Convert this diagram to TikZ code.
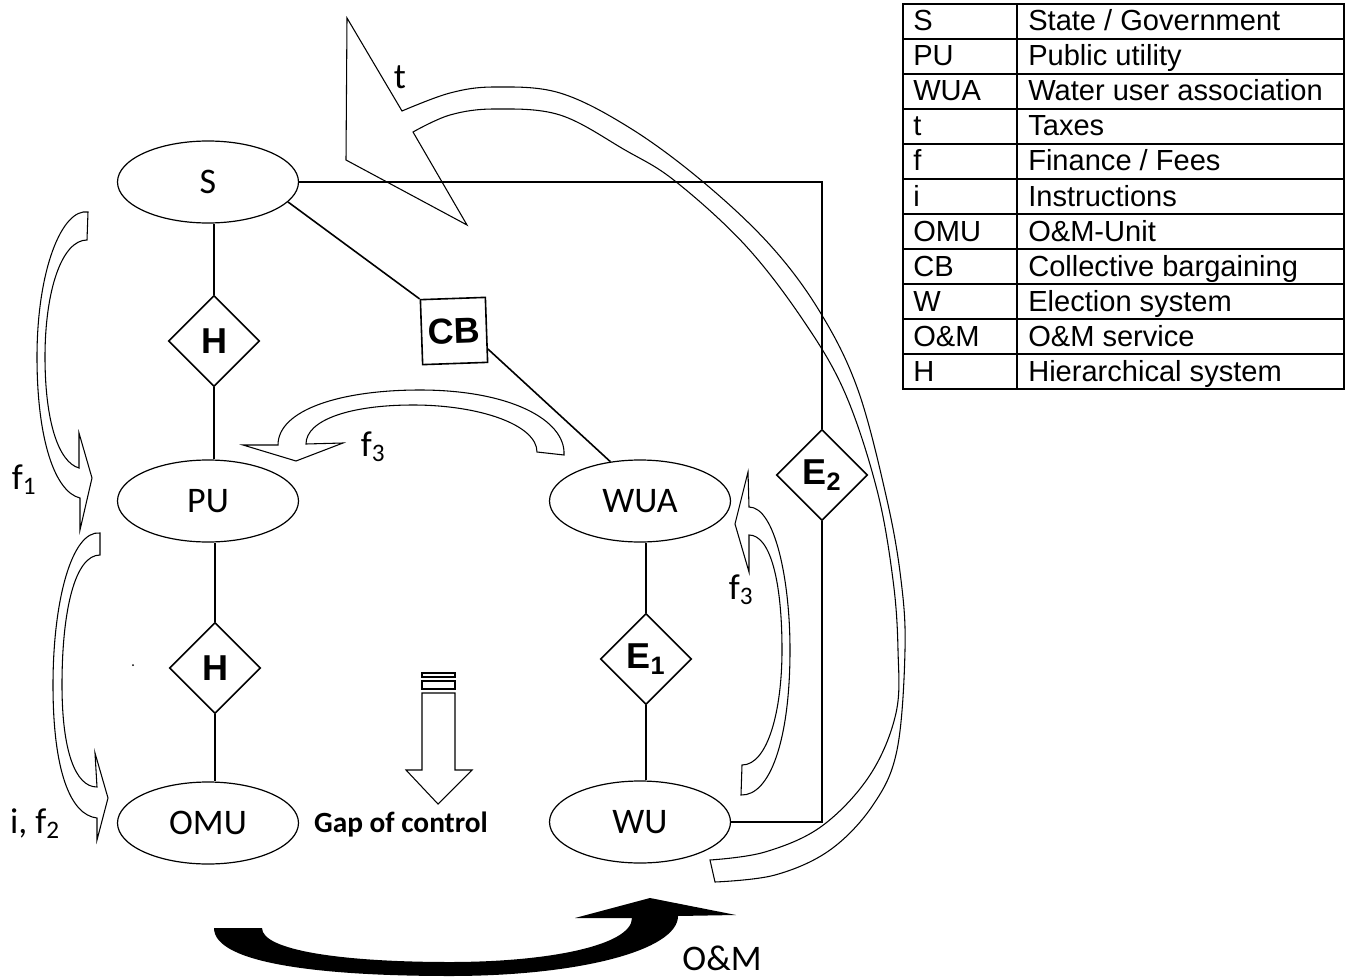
\documentclass[tikz,border=0pt]{standalone}
\usepackage{fontspec}
\setmainfont{Carlito}
\newfontfamily\arialf{Liberation Sans}
\usetikzlibrary{shapes.geometric}
\begin{document}
\begin{tikzpicture}[x=0.75pt,y=-0.75pt,
  ell/.style={ellipse,draw,line width=0.9pt,minimum width=135.75pt,minimum height=61.5pt,inner sep=0pt,font=\fontsize{27}{30}\selectfont},
  dia/.style={diamond,draw,line width=1.2pt,minimum width=68.25pt,minimum height=68.25pt,inner sep=0pt,font=\arialf\bfseries\fontsize{27}{30}\selectfont},
  conn/.style={line width=1.2pt},
  blk/.style={line width=0.8pt,line join=miter},
  lbl/.style={inner sep=0pt,font=\fontsize{27}{30}\selectfont},
  tbl/.style={line width=1.1pt},
  tcell/.style={anchor=base west,inner sep=0pt,font=\arialf\fontsize{21.8}{24}\selectfont}]
\useasboundingbox (0,0) rectangle (1352,977);

% nodes
\node[ell] (S) at (208,182) {S};
\node[ell] (PU) at (208,501) {PU};
\node[ell] (OMU) at (208,823) {OMU};
\node[ell] (WUA) at (640,501) {WUA};
\node[ell] (WU) at (640,822) {WU};
\node[dia] (H1) at (214,341) {H};
\node[dia] (H2) at (215,668) {H};
\node[dia] (E1) at (646,659) {E\textsubscript{1}};
\node[dia] (E2) at (822,475) {E\textsubscript{2}};
\node[draw,line width=1.2pt,minimum size=48.75pt,inner sep=0pt,rotate=2,font=\arialf\bfseries\fontsize{27}{30}\selectfont] (CB) at (454,331) {CB};

% connectors
\draw[conn] (H1.north) -- (H1.north |- S.south);
\draw[conn] (H1.south) -- (H1.south |- PU.north);
\draw[conn] (H2.north) -- (H2.north |- PU.south);
\draw[conn] (H2.south) -- (H2.south |- OMU.north);
\draw[conn] (E1.north) -- (E1.north |- WUA.south);
\draw[conn] (E1.south) -- (E1.south |- WU.north);
\draw[conn] (S.-14) -- (CB.north west);
\draw[conn] (CB.-30) -- (WUA.127);
\draw[conn] (S.east) -| (E2.north);
\draw[conn] (E2.south) |- (WU.east);

% f1 arrow
\draw[blk] (88,212) .. controls (62,208) and (37,270) .. (37,357) .. controls (37,440) and (55,492) .. (80,498) -- (80,530) -- (92,478) -- (79,433) -- (79,468) .. controls (58,462) and (45,420) .. (45,357) .. controls (45,290) and (62,240) .. (87,240) -- cycle;
% i,f2 arrow
\draw[blk] (100,533) .. controls (72,530) and (53,600) .. (53,685) .. controls (53,770) and (70,815) .. (97,818) -- (97,840) -- (108,798) -- (95,753) -- (97,787) .. controls (75,787) and (62,750) .. (62,685) .. controls (62,610) and (75,555) .. (100,555) -- cycle;
% top f3 arrow
\draw[blk] (564,455) .. controls (566,420) and (510,390) .. (420,390) .. controls (340,390) and (278,410) .. (278,445) -- (243,445) -- (296,461) -- (343,443) -- (306,444) .. controls (306,420) and (350,405) .. (413,405) .. controls (480,405) and (537,425) .. (537,452) -- cycle;
% right f3 arrow
\draw[blk] (741,795) .. controls (770,796) and (790,740) .. (790,650) .. controls (790,580) and (775,507) .. (749,507) -- (748,472) -- (735,524) -- (749,572) -- (749,535) .. controls (770,535) and (782,580) .. (782,650) .. controls (782,710) and (768,765) .. (742,765) -- cycle;
% big t arrow
\draw[blk] (715,882) -- (710,860) -- plot[smooth,tension=0.6] coordinates {(710,860) (765,852) (822,826) (870,775) (896,713) (898,650) (893,580) (877,490) (845,393) (803,320) (745,245) (675,181) (625,150) (560,115) (495,109) (450,115) (413,132)} -- (467,225) -- (346,160) -- (347,18) -- (402,111) -- plot[smooth,tension=0.6] coordinates {(402,111) (450,93) (495,87) (560,93) (630,128) (702,181) (770,245) (820,312) (858,390) (887,500) (901,580) (905,650) (897,750) (873,805) (830,850) (775,875) (715,882)} -- cycle;

% O&M black arrow
\fill (214,928) -- (262,928) .. controls (262,950) and (340,962) .. (450,962) .. controls (550,962) and (632,945) .. (632,918) -- (575,918) -- (650,898) -- (736,915) -- (678,916) .. controls (678,950) and (580,976) .. (450,976) .. controls (330,976) and (214,965) .. (214,928) -- cycle;

% gap of control arrow
\draw[blk] (422,673) rectangle (455,677);
\draw[blk] (422,681) rectangle (455,689);
\draw[blk] (422,693) -- (422,770) -- (406,770) -- (438,804) -- (472,770) -- (455,770) -- (455,693) -- cycle;
\fill (133,665) circle (1);

% labels
\node[lbl] (tl) at (400,77) {t};
\node[lbl] (f1l) at (24,480) {f\textsubscript{1}};
\node[lbl] (f3a) at (373,447) {f\textsubscript{3}};
\node[lbl] (f3b) at (741,590) {f\textsubscript{3}};
\node[lbl] (if2) at (35,824) {i, f\textsubscript{2}};
\node[lbl] (om) at (722,958) {O\&M};
\node[inner sep=0pt,font=\bfseries\fontsize{22}{24}\selectfont] (gap) at (401,825) {Gap of control};

% legend table
\draw[tbl] (903,4) rectangle (1344,389);
\draw[tbl] (1017,4) -- (1017,389);
\foreach \i in {1,...,10} { \draw[tbl] (903,4+35*\i) -- (1344,4+35*\i); }
\node[tcell] (k0) at (913,31) {S};   \node[tcell] (v0) at (1028,31) {State / Government};
\node[tcell] (k1) at (913,66) {PU};  \node[tcell] (v1) at (1028,66) {Public utility};
\node[tcell] (k2) at (913,101) {WUA}; \node[tcell] (v2) at (1028,101) {Water user association};
\node[tcell] (k3) at (913,136) {t};   \node[tcell] (v3) at (1028,136) {Taxes};
\node[tcell] (k4) at (913,171) {f};   \node[tcell] (v4) at (1028,171) {Finance / Fees};
\node[tcell] (k5) at (913,206) {i};   \node[tcell] (v5) at (1028,206) {Instructions};
\node[tcell] (k6) at (913,241) {OMU}; \node[tcell] (v6) at (1028,241) {O\&M-Unit};
\node[tcell] (k7) at (913,276) {CB};  \node[tcell] (v7) at (1028,276) {Collective bargaining};
\node[tcell] (k8) at (913,311) {W};   \node[tcell] (v8) at (1028,311) {Election system};
\node[tcell] (k9) at (913,346) {O\&M}; \node[tcell] (v9) at (1028,346) {O\&M service};
\node[tcell] (k10) at (913,381) {H};  \node[tcell] (v10) at (1028,381) {Hierarchical system};
\end{tikzpicture}
\end{document}
